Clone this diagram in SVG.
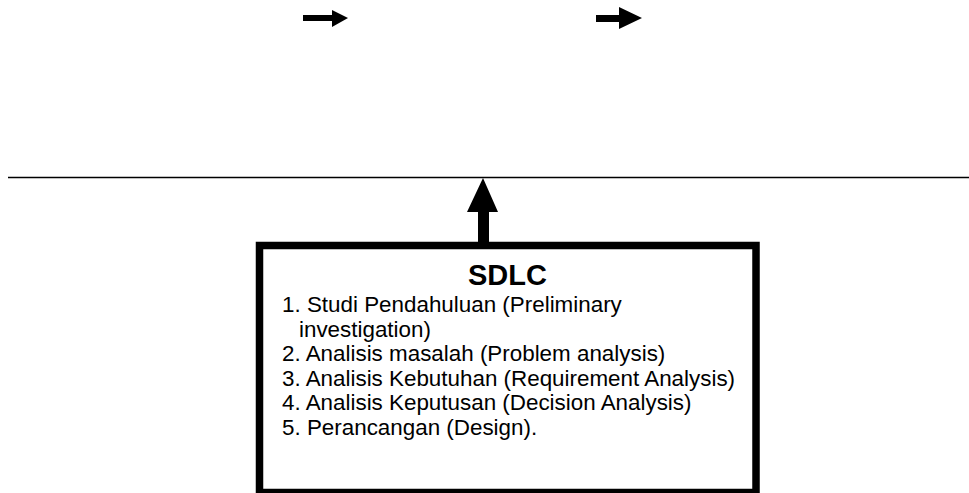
<svg xmlns="http://www.w3.org/2000/svg" width="969" height="493" viewBox="0 0 969 493">
  <style>
    .item { font-family: "Liberation Sans", Arial, sans-serif; font-size: 22.4px; fill: #000; }
    .title { font-family: "Liberation Sans", Arial, sans-serif; font-size: 29px; font-weight: bold; fill: #000; }
    .solid { fill: #000; stroke: none; }
  </style>
  <rect width="969" height="493" fill="#fff"/>

  <!-- connectors: block arrows and the divider line -->
  <g id="connectors">
    <polygon class="solid" points="303,15 332,15 332,10 348,18 332,27 332,21 303,21"/>
    <polygon class="solid" points="596,15 619,15 619,7 642,18 619,29 619,22 596,22"/>
    <line x1="8" y1="177.5" x2="969" y2="177.5" stroke="#000" stroke-width="1.5"/>
    <polygon class="solid" points="483,178 498,212 489,212 489,243 478,243 478,212 467,212"/>
  </g>

  <!-- SDLC box -->
  <g id="sdlc">
    <rect x="259.5" y="245.5" width="496.5" height="247" fill="#fff" stroke="#000" stroke-width="7.5"/>
    <text class="title" x="507.5" y="285" text-anchor="middle">SDLC</text>
    <text class="item" x="282" y="312">1. Studi Pendahuluan (Preliminary</text>
    <text class="item" x="299" y="336.5">investigation)</text>
    <text class="item" x="282" y="361">2. Analisis masalah (Problem analysis)</text>
    <text class="item" x="282" y="385.5">3. Analisis Kebutuhan (Requirement Analysis)</text>
    <text class="item" x="282" y="410">4. Analisis Keputusan (Decision Analysis)</text>
    <text class="item" x="282" y="434.5">5. Perancangan (Design).</text>
  </g>
</svg>
